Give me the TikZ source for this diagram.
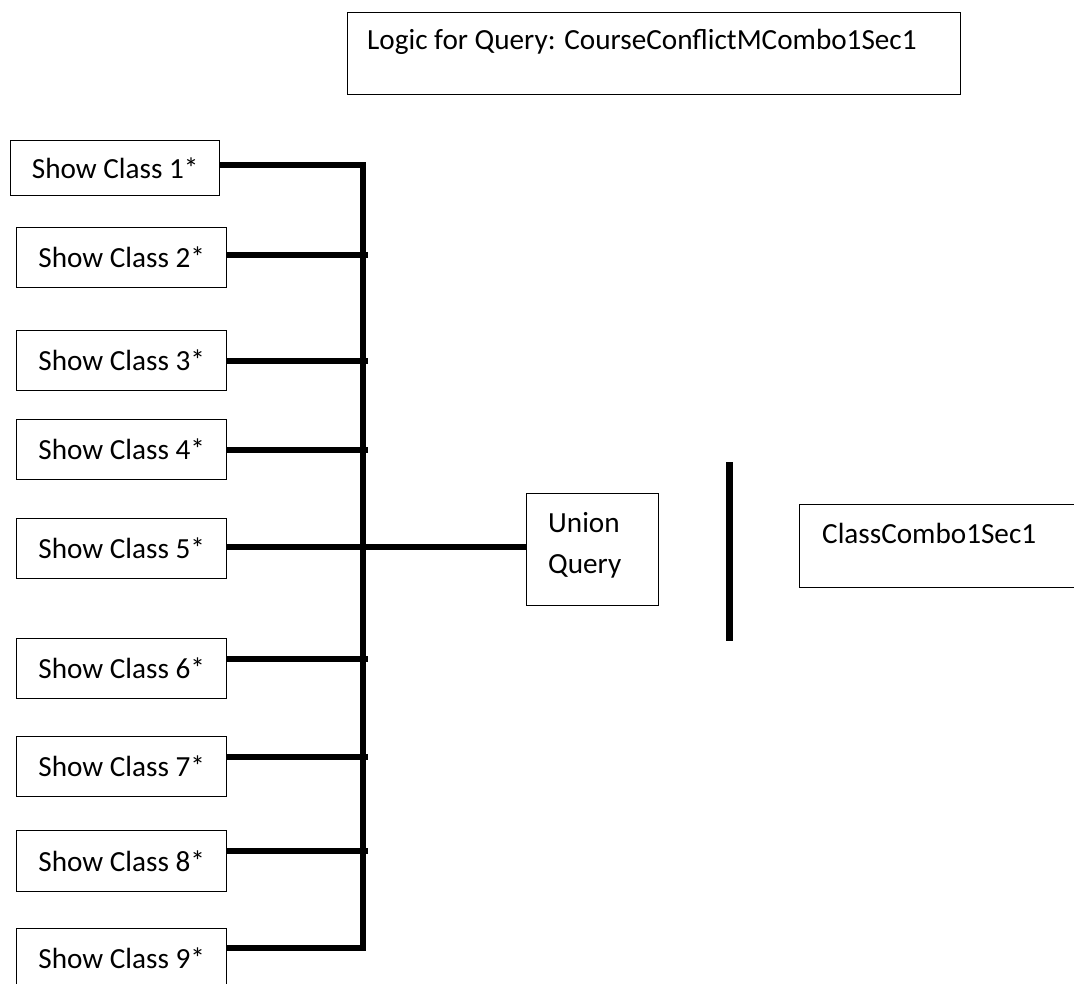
\documentclass[tikz,border=0pt]{standalone}
\usepackage{fontspec}
\setmainfont{Carlito}
\usetikzlibrary{calc}
\begin{document}
\begin{tikzpicture}[x=1pt,y=-1pt,
  box/.style={draw=black,line width=1.4pt,rectangle,inner sep=0pt,anchor=north west},
  cls/.style={box,minimum width=210pt,minimum height=60pt,font=\fontsize{29.2}{35}\selectfont},
  bus/.style={line width=6.8pt,line join=miter,line cap=butt},
  lbl/.style={anchor=base west,inner sep=0pt,font=\fontsize{29.2}{35}\selectfont}]
\useasboundingbox (0,0) rectangle (1074,984);
% title
\node[box,minimum width=613pt,minimum height=82pt] (t) at (347,12) {};
\node[lbl] (tt) at (367,50) {Logic for Query: CourseConflictMCombo1Sec1};
% class boxes
\node[cls,minimum width=209pt,minimum height=55pt] (s1) at (10,140) {Show Class 1*};
\node[cls] (s2) at (16,227) {Show Class 2*};
\node[cls] (s3) at (16,330) {Show Class 3*};
\node[cls] (s4) at (16,419) {Show Class 4*};
\node[cls] (s5) at (16,518) {Show Class 5*};
\node[cls] (s6) at (16,638) {Show Class 6*};
\node[cls] (s7) at (16,736) {Show Class 7*};
\node[cls,minimum height=61pt] (s8) at (16,830) {Show Class 8*};
\node[cls] (s9) at (16,928) {Show Class 9*};
% union
\node[box,minimum width=132pt,minimum height=112pt] (u) at (526,493) {};
\node[lbl] (u1) at (548,532) {Union};
\node[lbl] (u2) at (548,573) {Query};
% result
\node[box,minimum width=290pt,minimum height=83pt] (c) at (799,504) {};
\node[lbl] (c1) at (822,543) {ClassCombo1Sec1};
% bus coordinates
\coordinate (b1) at (363,165);
\coordinate (b2) at (363,255);
\coordinate (b3) at (363,361);
\coordinate (b4) at (363,450);
\coordinate (b5) at (363,547);
\coordinate (b6) at (363,659);
\coordinate (b7) at (363,757);
\coordinate (b8) at (363,851);
\coordinate (b9) at (363,948);
\coordinate (bt) at (729.5,462);
\coordinate (bb) at (729.5,641);
% connectors
\draw[bus] (s1.east |- b1) -- (b1) -- (b9) -- (s9.east |- b9);
\foreach \i in {2,3,4,6,7,8}{
  \draw[bus] (s\i.east |- b\i) -- ($(b\i)+(5,0)$);
}
\draw[bus] (s5.east |- b5) -- (u.west |- b5);
\draw[line width=7pt] (bt) -- (bb);
\end{tikzpicture}
\end{document}
